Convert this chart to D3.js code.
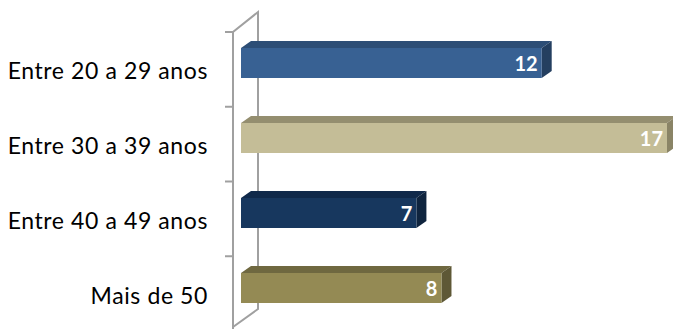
<!DOCTYPE html>
<html><head><meta charset="utf-8">
<script src="https://cdn.jsdelivr.net/npm/d3@7"></script>
<style>body{margin:0;background:#fff}svg{display:block}</style>
</head><body>
<script>
const categories = ["Entre 20 a 29 anos","Entre 30 a 39 anos","Entre 40 a 49 anos","Mais de 50"];
const values = [12,17,7,8];
const frontColors = ["#386193","#C4BD97","#17375E","#948A54"];
const topColors = ["#2D4E76","#948E6F","#10294A","#6F6840"];
const sideColors = ["#243F60","#8A8466","#0F243E","#5E5836"];

(function(){
const W=673,H=329;
const svg=d3.select("body").append("svg").attr("width",W).attr("height",H);

const x=d3.scaleLinear().domain([0,17]).range([241,667]);
const y=d3.scaleBand().domain(categories).range([25.5,325.5]);
const yWall=d3.scaleBand().domain(categories).range([32,331]);
const dx=10, dy=-7, barH=30;
const wdx=25, wdy=-20;

// wall
const g=svg.append("g");
const wx=233, wTop=yWall.range()[0], wBot=yWall.range()[1];
const axisStyle=s=>s.attr("stroke","#A0A0A0").attr("stroke-width",2).attr("fill","none");
g.append("path").attr("d",`M${wx},${wBot}L${wx},${wTop}L${wx+wdx},${wTop+wdy}L${wx+wdx},${wBot-2+wdy}L${wx},${wBot-4}`).call(axisStyle);
const tickYs=categories.map(c=>yWall(c)).concat([wBot]);
g.selectAll("line.tick").data(tickYs).join("line").attr("class","tick")
 .attr("x1",wx-8).attr("x2",wx).attr("y1",d=>d).attr("y2",d=>d).call(axisStyle);

// labels
svg.selectAll("text.cat").data(categories).join("text").attr("class","cat")
 .attr("x",208).attr("y",c=>yWall(c)+yWall.bandwidth()/2+10)
 .attr("text-anchor","end").attr("font-family","Lato, sans-serif").attr("font-size",23)
 .attr("letter-spacing","0.6px").attr("fill","#000")
 .text(c=>c);

// bars
const bars=svg.selectAll("g.bar").data(values).join("g").attr("class","bar");
bars.each(function(v,i){
  const b=d3.select(this);
  const x0=x(0), x1=x(v), y0=y(categories[i])+(y.bandwidth()-barH)/2, y1=y0+barH;
  b.append("path").attr("d",`M${x0},${y0}L${x0+dx},${y0+dy}L${x1+dx},${y0+dy}L${x1},${y0}Z`).attr("fill",topColors[i]);
  b.append("path").attr("d",`M${x1},${y0}L${x1+dx},${y0+dy}L${x1+dx},${y1+dy}L${x1},${y1}Z`).attr("fill",sideColors[i]);
  b.append("rect").attr("x",x0).attr("y",y0).attr("width",x1-x0).attr("height",barH).attr("fill",frontColors[i]);
  b.append("text").attr("x",x1-4).attr("y",y0+23).attr("text-anchor","end")
   .attr("font-family","Lato, sans-serif").attr("font-weight","bold").attr("font-size",20).attr("fill","#fff").text(v);
});
})();
</script>
</body></html>
